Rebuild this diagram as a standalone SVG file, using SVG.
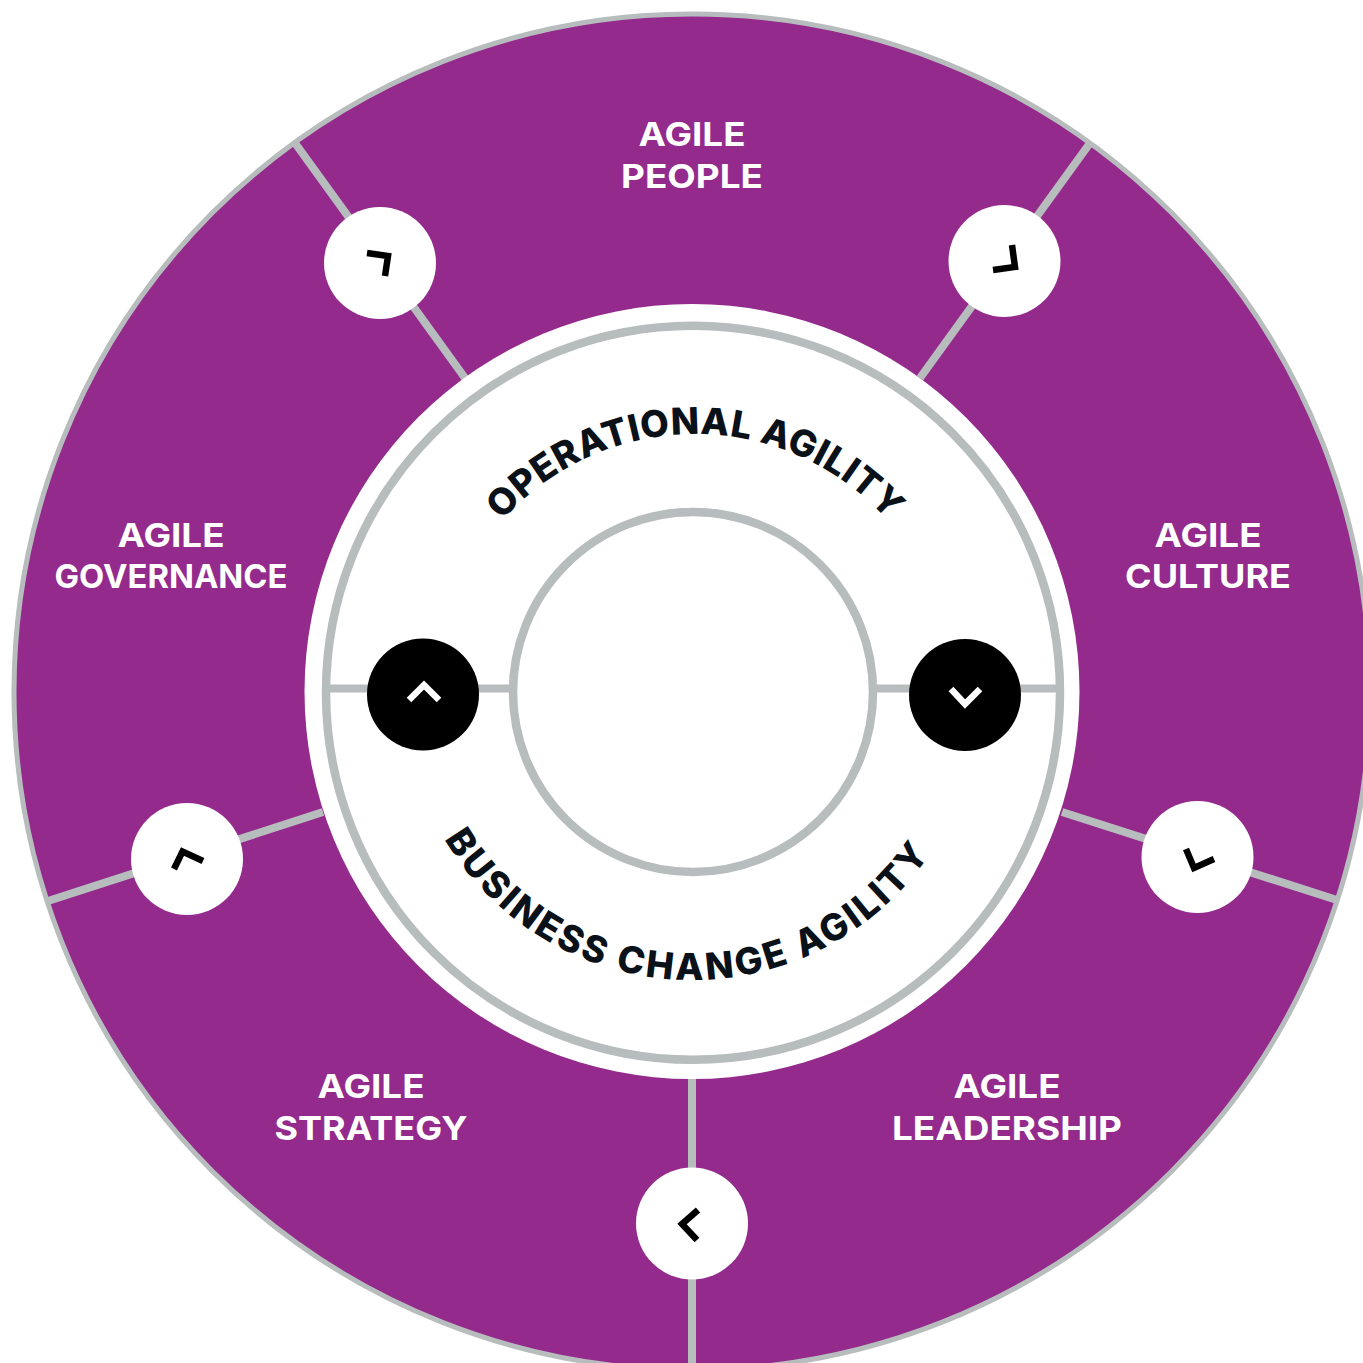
<svg xmlns="http://www.w3.org/2000/svg" width="1363" height="1363" viewBox="0 0 1363 1363">
<style>
.spoke{stroke:#b7bcbc;stroke-width:8;fill:none}
.ring{stroke:#b7bcbc;stroke-width:8.500;fill:none}
.btn{fill:#fff}
.dark{fill:#000}
.chev{fill:none;stroke:#000;stroke-width:6.500;stroke-linejoin:miter}
.chevw{fill:none;stroke:#fff;stroke-width:6.500;stroke-linejoin:miter}
.lab{font-family:Inter,"Open Sans","Liberation Sans",sans-serif;font-weight:700;font-size:33px;fill:#fff;text-anchor:middle}
.arc{font-family:Inter,"Open Sans","Liberation Sans",sans-serif;font-weight:800;font-size:37px;fill:#0a1118;text-anchor:middle}
</style>
<defs>
<path id="arcTop" d="M 437 692 A 258 258 0 0 1 953 692"/>
<path id="arcBot" d="M 404 692 A 288 288 0 0 0 980 692"/>
</defs>
<rect width="1363" height="1363" fill="#fff"/>
<g id="wheel">
<circle cx="692" cy="692" r="678" fill="#932a8c" stroke="#b7bcbc" stroke-width="5"/>
</g>
<g id="connectors">
<path class="spoke" d="M295 143L465 378"/>
<path class="spoke" d="M1090 143L920 378"/>
<path class="spoke" d="M48 901L323 812"/>
<path class="spoke" d="M1337 900L1062 812"/>
<path class="spoke" d="M692 1075V1363"/>
</g>
<g id="hub">
<circle cx="692" cy="691.500" r="387.500" fill="#fff"/>
<circle class="ring" cx="693" cy="692.750" r="367"/>
<circle class="ring" cx="693" cy="692" r="180"/>
<path class="spoke" d="M327 688.500H513"/>
<path class="spoke" d="M873 688.500H1060"/>
</g>
<g id="operational-agility"><text class="arc" textLength="436"><textPath href="#arcTop" startOffset="50%">OPERATIONAL AGILITY</textPath></text></g>
<g id="business-change-agility"><text class="arc" textLength="578"><textPath href="#arcBot" startOffset="443">BUSINESS CHANGE AGILITY</textPath></text></g>
<g id="agile-people"><text class="lab" x="692" y="146" textLength="107" lengthAdjust="spacingAndGlyphs">AGILE</text><text class="lab" x="692" y="188" textLength="142" lengthAdjust="spacingAndGlyphs">PEOPLE</text></g>
<g id="agile-governance"><text class="lab" x="171" y="547" textLength="107" lengthAdjust="spacingAndGlyphs">AGILE</text><text class="lab" x="171" y="588" textLength="233" lengthAdjust="spacingAndGlyphs">GOVERNANCE</text></g>
<g id="agile-culture"><text class="lab" x="1208" y="547" textLength="107" lengthAdjust="spacingAndGlyphs">AGILE</text><text class="lab" x="1208" y="588" textLength="166" lengthAdjust="spacingAndGlyphs">CULTURE</text></g>
<g id="agile-strategy"><text class="lab" x="371" y="1098" textLength="107" lengthAdjust="spacingAndGlyphs">AGILE</text><text class="lab" x="371" y="1140" textLength="193" lengthAdjust="spacingAndGlyphs">STRATEGY</text></g>
<g id="agile-leadership"><text class="lab" x="1007" y="1098" textLength="107" lengthAdjust="spacingAndGlyphs">AGILE</text><text class="lab" x="1007" y="1140" textLength="230" lengthAdjust="spacingAndGlyphs">LEADERSHIP</text></g>
<g id="btn-top-left"><circle class="btn" cx="380" cy="263" r="56"/><path class="chev" d="M367 253L388 256L385 276"/></g>
<g id="btn-top-right"><circle class="btn" cx="1004.500" cy="261" r="56"/><path class="chev" d="M1012 245L1015 267L993 270"/></g>
<g id="btn-bottom-left"><circle class="btn" cx="187" cy="859" r="56"/><path class="chev" d="M174 869L182.500 851.500L203 861"/></g>
<g id="btn-bottom-right"><circle class="btn" cx="1197.500" cy="857" r="56"/><path class="chev" d="M1186 849L1194 868L1214 859"/></g>
<g id="btn-bottom"><circle class="btn" cx="692" cy="1223.500" r="56"/><path class="chev" d="M698 1210L682 1224L697 1240"/></g>
<g id="btn-up"><circle class="dark" cx="423" cy="694.500" r="56"/><path class="chevw" d="M409 700L424 685L439 700"/></g>
<g id="btn-down"><circle class="dark" cx="965" cy="695" r="56"/><path class="chevw" d="M951 689L965 704L980 689"/></g>
</svg>
